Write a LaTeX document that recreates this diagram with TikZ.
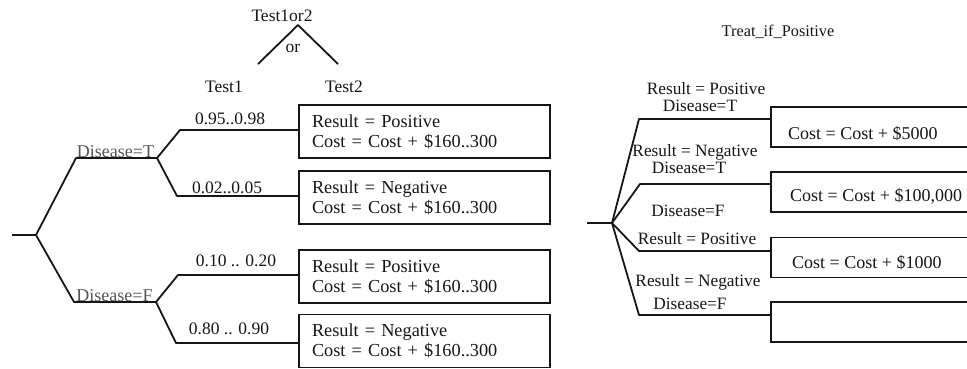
\documentclass[tikz,border=0pt]{standalone}
\usepackage{fontspec}
\setmainfont{Liberation Serif}
\definecolor{ink}{HTML}{161616}
\definecolor{softink}{HTML}{555555}
\begin{document}
\begin{tikzpicture}[x=1pt,y=-1pt,
  every node/.style={inner sep=0pt, text=ink},
  wire/.style={draw=ink, line width=1.8pt, line join=round},
  lbl/.style={font=\fontsize{17.5}{20}\selectfont, anchor=base},
  rlbl/.style={font=\fontsize{17.3}{20}\selectfont, anchor=base},
  dlbl/.style={font=\fontsize{18}{20}\selectfont, anchor=base, text=softink},
  outcome/.style={draw=ink, line width=1.8pt, minimum width=251pt, minimum height=53pt,
    align=left, text width=225pt, inner xsep=13pt, font=\fontsize{18.3}{20}\selectfont},
  treatbox/.style={draw=ink, line width=1.8pt, minimum width=229pt, minimum height=40pt},
  costlbl/.style={font=\fontsize{18}{20}\selectfont, anchor=base west}]
\useasboundingbox (0,0) rectangle (967,368);
\clip (0,0) rectangle (967,368);

% ---- choice between the two tests ----
\node[lbl] (choice) at (282,21) {Test1or2};
\node[lbl] (orlbl) at (293,52) {or};
\node[lbl] (test1) at (224,92) {Test1};
\node[lbl] (test2) at (344,92) {Test2};
\coordinate (apex) at (298,25);
\coordinate (legL) at (258,64);
\coordinate (legR) at (338,64);
\draw[wire] (legL) -- (apex) -- (legR);

% ---- test outcome boxes ----
\node[outcome] (o1) at (424.5,131.5) {Result = Positive\\Cost = Cost + \$160..300};
\node[outcome] (o2) at (424.5,197.5) {Result = Negative\\Cost = Cost + \$160..300};
\node[outcome] (o3) at (424.5,276.5) {Result = Positive\\Cost = Cost + \$160..300};
\node[outcome] (o4) at (424.5,341) {Result = Negative\\Cost = Cost + \$160..300};

% ---- disease / test tree ----
\coordinate (L0) at (12,235);
\coordinate (L1) at (36,235);
\coordinate (LT) at (76,158);
\coordinate (LTc) at (157,158);
\coordinate (LF) at (74,302);
\coordinate (LFc) at (156,302);
\coordinate (LT1) at (180,130);
\coordinate (LT2) at (177,196);
\coordinate (LF1) at (178,275);
\coordinate (LF2) at (176,343);
\draw[wire] (L0) -- (L1) -- (LT) -- (LTc) -- (LT1) -- (o1.west |- LT1);
\draw[wire] (LTc) -- (LT2) -- (o2.west |- LT2);
\draw[wire] (L1) -- (LF) -- (LFc) -- (LF1) -- (o3.west |- LF1);
\draw[wire] (LFc) -- (LF2) -- (o4.west |- LF2);

\node[dlbl] (dT) at (115.5,157) {Disease=T};
\node[dlbl] (dF) at (114.5,301) {Disease=F};
\node[lbl] (p1) at (230,124) {0.95..0.98};
\node[lbl] (p2) at (227,193) {0.02..0.05};
\node[lbl] (p3) at (236,266) {0.10 .. 0.20};
\node[lbl] (p4) at (229,334) {0.80 .. 0.90};

% ---- treatment policy ----
\node[font=\fontsize{16.3}{20}\selectfont, anchor=base] (policy) at (778,36) {Treat\_if\_Positive};

\node[treatbox] (rb1) at (885.5,127) {};
\node[treatbox] (rb2) at (885.5,192) {};
\node[treatbox] (rb3) at (885.5,257.5) {};
\node[treatbox] (rb4) at (885.5,322) {};

\coordinate (R0) at (587,223);
\coordinate (R1) at (612,223);
\coordinate (Ra) at (639,119);
\coordinate (Rb) at (640,184);
\coordinate (Rc) at (639,251);
\coordinate (Rd) at (639,315);
\draw[wire] (R0) -- (R1) -- (Ra) -- (rb1.west |- Ra);
\draw[wire] (R1) -- (Rb) -- (rb2.west |- Rb);
\draw[wire] (R1) -- (Rc) -- (rb3.west |- Rc);
\draw[wire] (R1) -- (Rd) -- (rb4.west |- Rd);

\node[rlbl] (ra1) at (706,94) {Result = Positive};
\node[rlbl] (ra2) at (700,111) {Disease=T};
\node[rlbl] (rb1l) at (695,156) {Result = Negative};
\node[rlbl] (rb2l) at (689,173) {Disease=T};
\node[rlbl] (rc1) at (688,216) {Disease=F};
\node[rlbl] (rc2) at (697,244) {Result = Positive};
\node[rlbl] (rd1) at (698,286) {Result = Negative};
\node[rlbl] (rd2) at (690,309) {Disease=F};

\node[costlbl] (c1) at (788,139) {Cost = Cost + \$5000};
\node[costlbl] (c2) at (790,201) {Cost = Cost + \$100,000};
\node[costlbl] (c3) at (792,268) {Cost = Cost + \$1000};
\end{tikzpicture}
\end{document}
